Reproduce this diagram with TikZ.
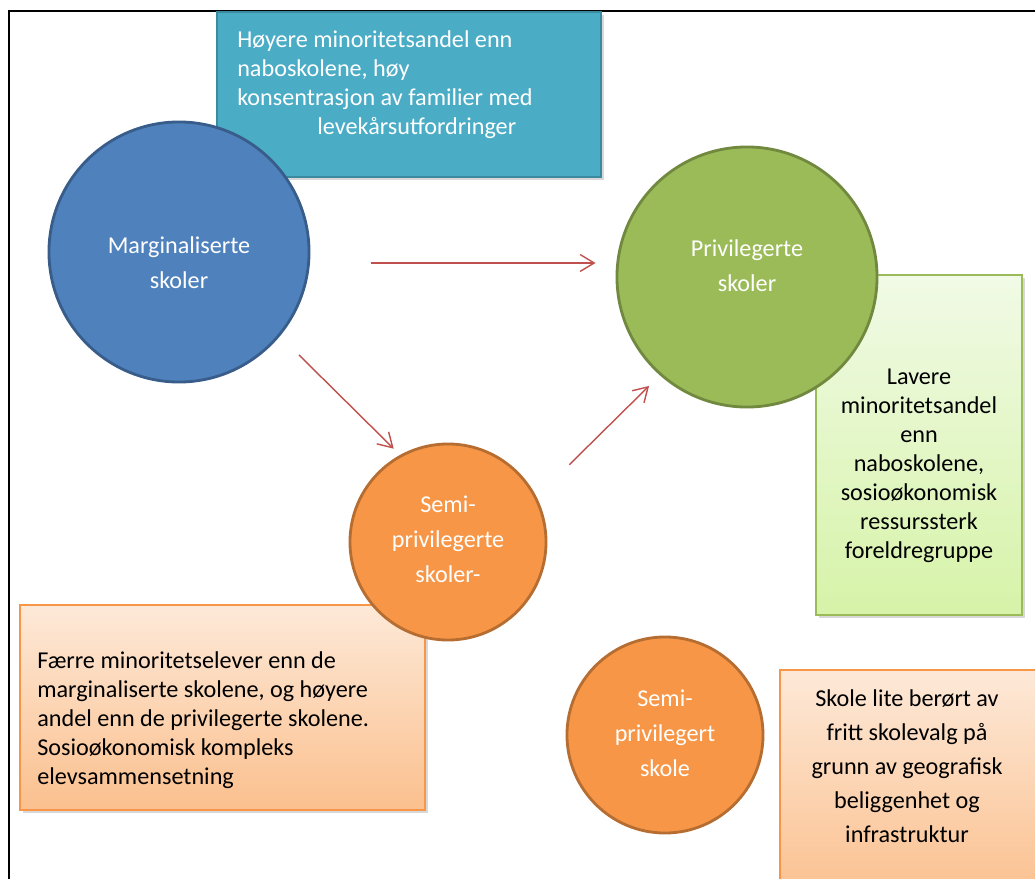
\documentclass[tikz,border=0pt]{standalone}
\usepackage{fontspec}
\setmainfont{Carlito}
\usepackage{tikz}
\usetikzlibrary{arrows.meta,calc,shadows}
\definecolor{skyblue}{HTML}{4BACC6}
\definecolor{skybluedark}{HTML}{3B8A9F}
\definecolor{margblue}{HTML}{4F81BD}
\definecolor{margbluedark}{HTML}{385D8A}
\definecolor{privgreen}{HTML}{9BBB59}
\definecolor{privgreendark}{HTML}{71893F}
\definecolor{privlight}{HTML}{F1FAE6}
\definecolor{privmid}{HTML}{D6F3A8}
\definecolor{semiorange}{HTML}{F79646}
\definecolor{semiorangedark}{HTML}{B66D31}
\definecolor{semilight}{HTML}{FDE9D8}
\definecolor{semimid}{HTML}{FBC08E}
\definecolor{arrowred}{HTML}{C0504D}

\begin{document}
\begin{tikzpicture}[x=0.025cm,y=-0.025cm,
  skole/.style={draw,circle,line width=2pt,inner sep=0pt},
  skoletekst/.style={inner sep=0pt,text=white,align=center,font=\fontsize{17.2}{24.9}\selectfont},
  boks/.style={draw,rectangle,inner sep=0pt,drop shadow={shadow xshift=2pt,shadow yshift=-2pt,opacity=.3}},
  tekst/.style={inner sep=0pt,font=\fontsize{17.2}{20.6}\selectfont},
  pil/.style={->,>={Straight Barb[length=10pt,width=12pt]},line width=1pt,arrowred}]
\useasboundingbox (0,0) rectangle (1035,879);
\clip (0,0) rectangle (1035,879);
\fill[white] (0,0) rectangle (1035,879);
\draw[line width=1pt] (9,890) -- (9,11) -- (1040,11);
\node[boks,draw=skybluedark,fill=skyblue,line width=2pt,minimum width=9.6cm,minimum height=4.125cm] (minboks) at (409,94.5) {};
\node[tekst,text=white,align=left,anchor=west] (mintekst) at (237,85) {Høyere minoritetsandel enn\\naboskolene, høy\\konsentrasjon av familier med\\\hspace*{57pt}levekårsutfordringer};
\node[boks,draw=privgreen,top color=privlight,bottom color=privmid,line width=1pt,minimum width=5.15cm,minimum height=8.5cm] (privboks) at (919,445) {};
\node[tekst,align=center] (privtekst) at (919,466) {Lavere\\minoritetsandel\\enn\\naboskolene,\\sosioøkonomisk\\ressurssterk\\foreldregruppe};
\node[boks,draw=semiorange,top color=semilight,bottom color=semimid,line width=.8pt,minimum width=10.125cm,minimum height=5.125cm] (semiboks) at (222.5,707.5) {};
\node[tekst,align=left,anchor=west] (semitekst) at (37,720) {Færre minoritetselever enn de\\marginaliserte skolene, og høyere\\andel enn de privilegerte skolene.\\Sosioøkonomisk kompleks\\elevsammensetning};
\node[boks,draw=semiorange,top color=semilight,bottom color=semimid,line width=.8pt,minimum width=6.5cm,minimum height=5.75cm] (semitoboks) at (910,785) {};
\node[tekst,align=center,font=\fontsize{17.2}{24.2}\selectfont] (semitotekst) at (907,766) {Skole lite berørt av\\fritt skolevalg på\\grunn av geografisk\\beliggenhet og\\infrastruktur};
\node[skole,fill=margblue,draw=margbluedark,minimum size=6.5cm] (marg) at (179,252) {};
\node[skoletekst] (margtekst) at ($(marg)+(0,11)$) {Marginaliserte\\skoler};
\node[skole,fill=privgreen,draw=privgreendark,minimum size=6.5cm] (priv) at (747,277) {};
\node[skoletekst] (privskoletekst) at ($(priv)+(0,-11)$) {Privilegerte\\skoler};
\node[skole,fill=semiorange,draw=semiorangedark,minimum size=4.9cm] (semi) at (448,542) {};
\node[skoletekst] (semiskoletekst) at ($(semi)+(0,-3)$) {Semi-\\privilegerte\\skoler-};
\node[skole,fill=semiorange,draw=semiorangedark,minimum size=4.9cm] (semito) at (665,735) {};
\node[skoletekst] (semitoskoletekst) at ($(semito)+(0,-2)$) {Semi-\\privilegert\\skole};
\draw[pil] ($(marg.east)+(61,11)$) -- ($(priv.west)+(-20,-14)$);
\draw[pil] ($(marg.south east)+(27,10)$) -- ($(semi.north west)+(16,-23)$);
\draw[pil] ($(semi.north east)+(51,-7)$) -- ($(priv.south west)+(-5,16)$);
\end{tikzpicture}
\end{document}
